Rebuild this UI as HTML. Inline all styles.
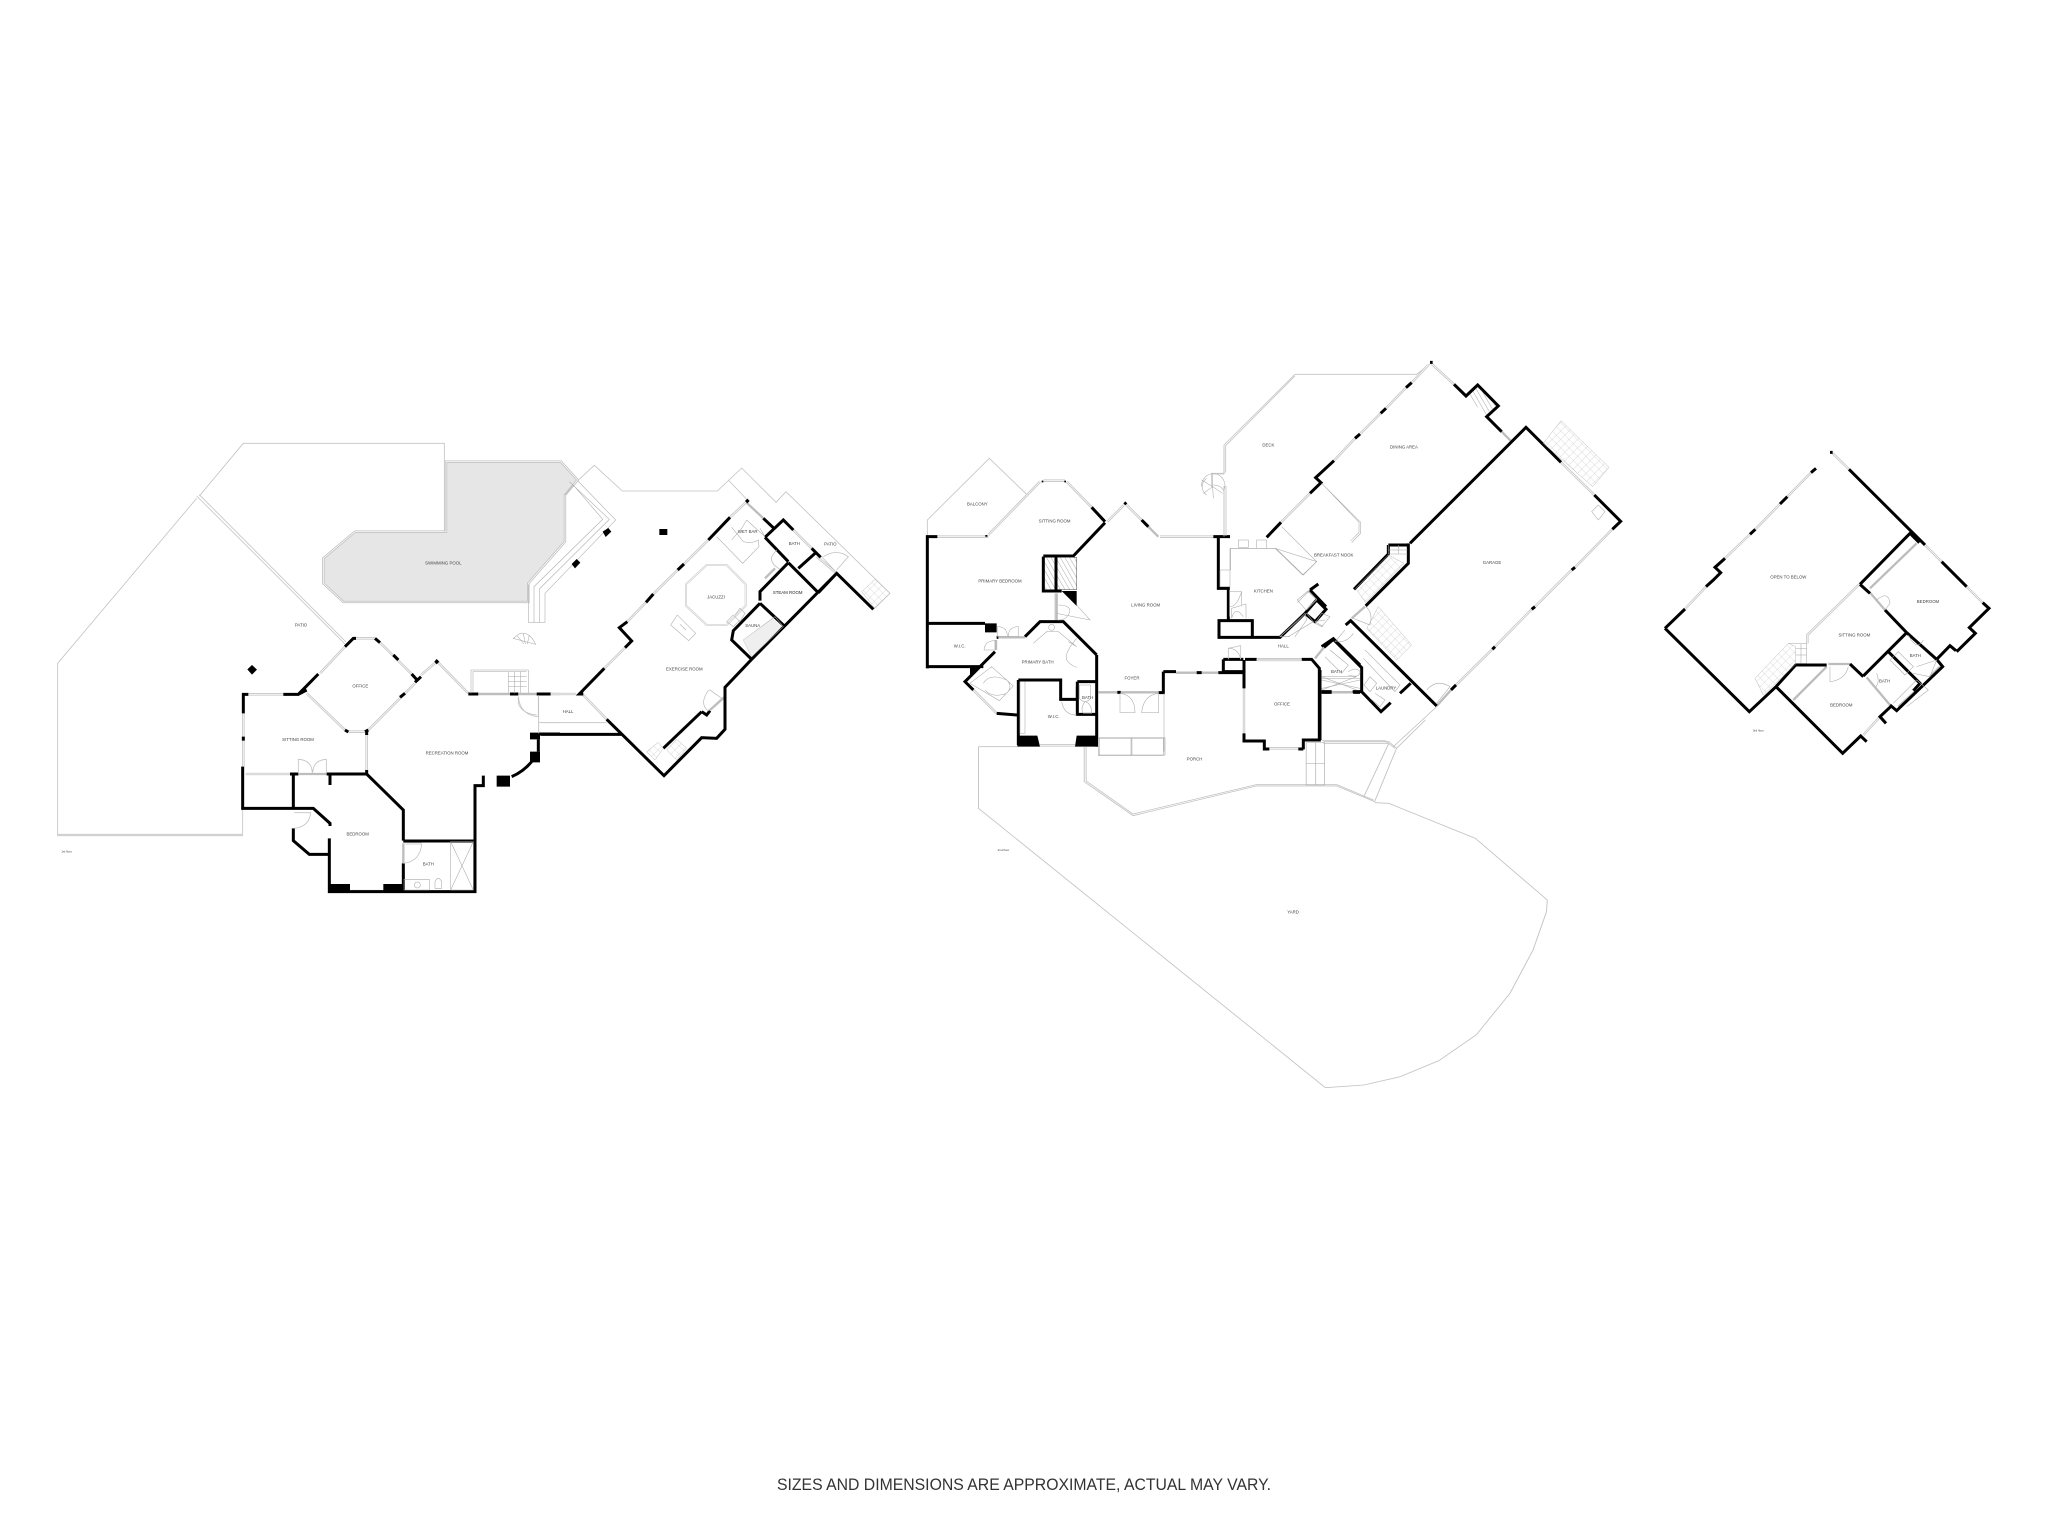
<!DOCTYPE html>
<html><head><meta charset="utf-8"><title>Floor plan</title>
<style>
html,body{margin:0;padding:0;background:#fff}
svg{display:block}
.w{fill:none;stroke:#000;stroke-width:9;stroke-linejoin:miter}
.g{fill:none;stroke:#c2c2c2;stroke-width:2.4}
.n{fill:none;stroke:#a6a6a6;stroke-width:1.6}
.v{fill:none;stroke:#bdbdbd;stroke-width:7}
.i{fill:none;stroke:#f6f6f6;stroke-width:3}
.k{fill:#000;stroke:none}
text{font-family:"Liberation Sans",sans-serif;font-size:13px;fill:#444;text-anchor:middle}
</style></head><body>
<svg width="2048" height="1536" viewBox="0 0 2048 1536" xmlns="http://www.w3.org/2000/svg">
<defs>
<pattern id="st" width="18" height="18" patternUnits="userSpaceOnUse" patternTransform="rotate(45)"><path d="M0 0H18M0 0V18" stroke="#bbb" stroke-width="1.5" fill="none"/></pattern>
<pattern id="ha" width="12" height="12" patternUnits="userSpaceOnUse" patternTransform="rotate(60)"><path d="M0 0H12" stroke="#555" stroke-width="1.5" fill="none"/></pattern>
</defs>
<rect width="2048" height="1536" fill="#fff"/>

<!-- FLOOR 1 left -->
<g transform="translate(40,420) scale(.33333)">
<path d="M1218 125H1563L1613 180L1575 225V365L1465 490V546H910L850 490V415L945 335H1218Z" fill="#e6e6e6" stroke="#bbb" stroke-width="7"/>
<path d="M1218 125H1563L1613 180L1575 225V365L1465 490V546H910L850 490V415L945 335H1218Z" fill="none" stroke="#fff" stroke-width="2.5"/>
<path class="g" d="M478 228L610 70H1213V335M470 235L53 730V1247H608V1165"/>
<path class="g" d="M53 1243H606" />
<path class="g" d="M470 228L915 672M478 224L918 666"/>
<path class="v" d="M840 760L915 680M945 655H1005M1020 668L1115 762M1143 765L1190 725M1195 728L1285 820M625 823H730M610 880V1040M617 1062H750M775 1062H860M980 1050V945M925 935H975M800 820L915 930M985 930L1125 790M1315 822H1410M1435 822H1490M1090 1265H1145M1090 1270V1330M935 1413H1025M1532 822H1560"/>
<path class="i" d="M840 760L915 680M945 655H1005M1020 668L1115 762M1143 765L1190 725M1195 728L1285 820M625 823H730M610 880V1040M617 1062H750M980 1050V945M925 935H975M800 820L915 930M985 930L1125 790M1315 822H1410M935 1413H1025"/>
<path class="w" d="M915 680L940 655H948M1005 655L1020 668M1060 705L1075 720M1115 762L1133 782M1125 787L1143 770M1285 822H1315M1410 822H1435M1490 822H1532M835 762L775 823H730M606 823H625M610 820V880M610 950V962M608 1040V1165H820L870 1210V1218M760 1062V1165M760 1225V1262L808 1303H868M868 1255V1415H1305V1097H1330V1067M750 1062H775M860 1062H980L1090 1170V1262M1090 1330V1415M1090 1263H1305M1415 1070Q1450 1055 1475 1025M1495 958V995M1495 942H1560M775 823L800 810M870 1062V1095M915 930L925 936M975 935L985 930M980 930V945M980 1050V1062M1080 832L1095 820"/>
<path class="k" d="M1370 1067h40v33h-40zM865 1392h65v25h-65zM1030 1392h60v25h-60zM1470 938h30v20h-30zM1470 995h30v32h-30zM622 748L636 735L651 749L636 764ZM1183 725L1190 717L1198 725L1190 733Z"/>
<path class="g" d="M775 1060V1018Q815 1020 817 1058M859 1060V1018Q820 1020 818 1058M1435 830V850Q1445 880 1490 885M1096 1272H1145Q1140 1325 1090 1330M763 1178H812Q808 1220 763 1225"/>
<path class="n" d="M1293 820V750H1465V822M1299 815V755H1460M1405 755V820M1405 770H1460M1405 785H1460M1405 800H1460M1423 755V820M1442 755V820M1232 1265H1300V1410H1232ZM1232 1265L1300 1410M1300 1265L1232 1410M1092 1378H1168V1410H1092ZM1185 1405V1385Q1195 1365 1205 1385V1405ZM1496 825V935M1496 908H1560"/>
<circle class="n" cx="1132" cy="1395" r="9"/>
<path class="n" d="M1420 655L1440 640Q1470 635 1487 673L1420 655ZM1432 648L1452 672M1450 640L1456 672M1468 645L1462 672"/>
<text x="1210" y="433">SWIMMING POOL</text><text x="783" y="620">PATIO</text><text x="961" y="803">OFFICE</text><text x="774" y="963">SITTING ROOM</text><text x="1221" y="1004">RECREATION ROOM</text><text x="953" y="1247">BEDROOM</text><text x="1165" y="1336">BATH</text>
<text x="80" y="1297" style="font-size:9px">1st floor</text>
</g>

<!-- FLOOR 1 right -->
<g transform="translate(450,440) scale(.33333)">
<path class="n" d="M345 165L370 135L458 238L252 440V548M358 125L478 238L268 447V548M383 122L497 240L285 460V548M235 548H285M235 433V548"/>
<path class="g" d="M385 120L433 76L517 153H802L875 84L978 187L1008 155L1320 460L1270 508M835 120L892 180M1160 398L1110 345"/>
<path class="v" d="M840 232L890 185M775 300L702 372M683 390L610 462M588 487L532 545M525 623L463 685M302 762H378M205 762H258M85 762H180M400 765L470 838M890 188L940 235M1030 270L1085 325M1100 350L1160 400M780 810L825 770M945 415L975 385"/>
<path class="i" d="M840 232L890 185M775 300L702 372M683 390L610 462M588 487L532 545M525 623L463 685M302 762H378M400 765L470 838M1030 270L1085 325M1100 350L1160 400"/>
<path class="w" d="M840 232L775 300M702 372L683 390M610 462L588 487M532 545L508 563L545 603L525 623M463 685L388 762H400M470 838L642 1007L755 893L800 895L825 868V742L905 658L1160 400L1270 508M940 235L975 268M945 292L1000 240L1030 270M945 292L1015 365M1085 325L1112 352M1045 385L1095 340M1015 368L1105 458M1105 458L1160 400M1015 368L930 455V482M930 490L850 572L845 600L905 658M930 490L1003 558M755 815L640 925M755 815L770 825L780 812M272 883H515"/>
<path class="k" d="M628 267h24v18h-24zM458 275L475 264L484 275L467 291ZM365 372L380 357L391 368L375 385ZM885 183L892 176L899 183L892 190Z"/>
<path d="M708 433L770 375H830L887 433V497L830 555H770L708 497Z" fill="none" stroke="#ccc" stroke-width="6"/>
<path d="M708 433L770 375H830L887 433V497L830 555H770L708 497Z" fill="none" stroke="#fff" stroke-width="2"/>
<path class="n" d="M662 555L682 525L737 580L716 602ZM690 553L708 570M845 300L875 265L890 240L945 290L930 265M845 262L880 305Q905 312 925 300L927 320L878 370L800 290M870 540L850 560L830 545L850 525L870 545L885 520L870 505L855 525M880 600L975 530L1000 560L905 650Z"/>
<path fill="#efefef" stroke="none" d="M880 600L970 535L995 560L905 650Z"/>
<path fill="url(#st)" stroke="#bbb" stroke-width="1.5" d="M1235 455L1275 418L1320 460L1275 505ZM590 935L625 907L640 925L615 960ZM650 930L680 898L710 925L680 960Z"/>
<path class="g" d="M1120 350Q1160 325 1195 350L1160 390M205 770Q210 825 265 830V770M760 785Q770 750 780 750L815 775L775 812Q762 805 760 785M990 388Q960 370 965 350Q975 335 980 330M272 848H470M266 770V880"/>
<text x="893" y="279">WET BAR</text><text x="1033" y="315">BATH</text><text x="1141" y="316">PATIO</text><text x="798" y="476">JACUZZI</text><text x="1013" y="462" style="fill:#222">STEAM ROOM</text><text x="908" y="561">SAUNA</text><text x="703" y="691">EXERCISE ROOM</text><text x="354" y="819">HALL</text>
</g>

<!-- FLOOR 2 middle -->
<g transform="translate(920,450) scale(.33333)">
<path class="g" d="M22 258V210L208 25L320 133"/>
<path class="v" d="M52 260H195M205 255L360 95M370 92H435M440 95L515 172M562 215L612 165M620 165L665 210M685 230L715 260M720 260H880M410 430V510M22 565V600M235 562H315M195 260H205M600 727H716M535 727H592M768 668H830M845 668H895M1012 628H1145M972 715V850M1048 895H1135M360 886H465M1235 727H1300M228 570V600M160 720L230 790M470 710V745"/>
<path class="i" d="M52 260H195M205 255L360 95M370 92H435M440 95L515 172M562 215L612 165M620 165L665 210M720 260H880M1012 628H1145M972 715V850M1048 895H1135M360 886H465M160 720L230 790"/>
<path class="w" d="M22 655V260H52M22 520H195M22 650H190M225 605L190 640L135 695L160 720M230 790L293 795M295 690V885M295 690H422V748H470M530 615V890M472 695H530M472 695V793H530M315 560L360 515H430L530 615M555 218L460 318H370M515 172L555 215M665 210L685 230M880 260H930M895 262V415H925V510M897 512H997V562H897ZM997 562H1080L1155 490L1185 515L1218 478L1190 450L1155 490M1170 420L1195 402M1170 420L1218 470M1145 628H1175L1198 655V870H1150V898M975 628H1010M972 630V715M972 850V873H1033V897H1048M1135 897H1150M910 628H970M910 628V665H972M730 665H768M730 665V728H716M830 668H845M592 727H602M895 668H970M1205 727H1235M1300 727H1320M1205 590L1240 566L1320 645M230 562H235"/>
<path class="k" d="M195 520h35v27h-35zM150 650h35l-35 30zM292 857h60l8 33h-68zM470 857h60l5 33h-70zM425 423h45v45zM196 260h6v-5h-6zM610 160l6-6 6 6-6 6zM365 92h5v5h-5zM433 92h5v5h-5z"/>
<rect x="367" y="322" width="40" height="100" fill="url(#ha)"/><rect x="410" y="322" width="60" height="97" fill="url(#ha)" stroke="#444" stroke-width="1.5"/>
<path class="w" d="M370 320V423H425M408 320V425"/>
<path class="g" d="M912 0V70H875V110M912 110V258M878 105Q905 105 912 125"/>
<path class="n" d="M845 110A35 35 0 1 1 912 120M860 135A30 30 0 0 1 860 85M878 70V110M878 110L845 90M878 110L850 130M878 110L880 145M878 110L908 130"/>
<path class="n" d="M930 295H1065L1190 335L1148 375L1065 295M930 295V360M955 270H985V292H955ZM1010 270H1040V295H1010ZM900 360H930V410H900ZM928 420V500M930 425H965V470M965 425Q950 470 930 470M935 505V475L978 462V505M935 505Q945 465 970 500M1132 458L1165 425L1190 450L1160 480M1110 560H1080L1155 490L1160 510L1125 560M1215 510L1185 515L1210 530M405 430V510M410 490L510 510L470 465M415 465Q445 465 450 480M415 510Q445 510 450 480M232 530V560H262Q262 530 232 530M295 530V560H265Q265 530 295 530M225 572V600H192Q195 572 225 572M340 580L380 545H415L470 590L445 575M395 532m-9 0a9 9 0 1 0 18 0a9 9 0 1 0-18 0M470 565Q432 610 440 630Q450 645 470 652M150 700L215 650L280 708L238 752ZM190 700Q210 668 260 690Q280 708 260 730Q215 745 195 720M300 695V850H315V695M425 755Q432 795 470 795M478 705H512V745Q495 765 478 745ZM495 755Q480 775 490 790H515Q515 760 495 755M600 730V788H645Q645 735 600 730M716 730V788H665Q670 735 716 730M732 730V905M535 865H730V917H535V790M633 865V917M1205 680H1310M1205 720L1310 680M1205 680L1310 720"/>
<path class="g" d="M925 628V595L962 587V628M925 595Q955 595 962 628"/>
<text x="172" y="166">BALCONY</text><text x="404" y="218">SITTING ROOM</text><text x="240" y="397">PRIMARY BEDROOM</text><text x="677" y="470">LIVING ROOM</text><text x="1030" y="428">KITCHEN</text><text x="119" y="592">W.I.C.</text><text x="353" y="641">PRIMARY BATH</text><text x="636" y="688">FOYER</text><text x="503" y="747">BATH</text><text x="401" y="804">W.I.C.</text><text x="1090" y="593">HALL</text><text x="1086" y="766">OFFICE</text><text x="1250" y="669">BATH</text>
</g>

<g transform="translate(1200,350) scale(.33333)">
<path class="g" d="M285 73H650L690 42M285 73L72 285V372H38M72 408V560M285 78L77 287V368M78 408V558"/>
<path class="v" d="M243 517L330 430M402 332L465 265M480 252L542 190M558 175L618 113M635 98L685 45M695 42L762 103M905 245L932 272M1083 337L1183 435M1237 538L1125 652M1115 660L1005 770M995 778L885 890M877 898L768 1005M753 1020L710 1068M170 930H305M395 1027H458M455 805L495 770M345 925L372 892"/>
<path class="i" d="M243 517L330 430M402 332L465 265M480 252L542 190M558 175L618 113M635 98L685 45M695 42L762 103M1083 337L1183 435M1237 538L1125 652M1115 660L1005 770M995 778L885 890M877 898L768 1005M170 930H305"/>
<path class="w" d="M200 562L243 517M330 430L363 398L347 383L402 332M465 265L480 252M542 190L558 175M618 113L635 98M762 103L798 138L833 105L895 168L860 200L905 245M630 580L978 232L1083 337M1183 435L1262 514L1237 538M1125 652L1115 660M1005 770L995 778M885 890L877 898M768 1005L753 1020M710 1068L452 812L437 825M625 580V640L497 768M565 585V612L462 718M565 585H625M632 1000L600 1030M400 868L485 953V1025M372 892L400 868M485 1025L543 1085L572 1058M365 1025H395M458 1025H485M360 960V1170M690 37h8"/>
<path fill="url(#ha)" d="M800 140L833 108L890 168L860 198Z"/>
<path fill="url(#st)" stroke="#bbb" stroke-width="1.5" d="M1030 280L1083 212L1227 352L1178 410ZM467 715L565 615L612 640L497 758ZM535 770L635 885L590 930L500 835Z"/>
<path class="n" d="M365 400L482 517V550L455 578M370 405L477 517V547L452 573M245 530L350 635L310 675L228 595H92V660M565 585V612H622M595 585V612M565 600H622M498 770Q520 790 510 825L460 805M460 850Q440 880 405 875L435 840M1175 485L1195 465L1215 485L1195 510ZM495 900L600 1005L585 1025L490 925M492 1005L510 980L530 1000L510 1025ZM525 1030L555 1050L540 1070L510 1045M390 900L445 945L425 970L375 920M365 985H480M365 990L480 1015M365 1015L480 990M445 965Q470 950 480 965Q480 985 445 975M680 1020Q710 985 750 1010L710 1060M292 750L325 722L350 748L318 780ZM345 820L365 790L390 800L365 830L345 820ZM240 860L320 790L340 815L265 860ZM365 1172H555L585 1195M580 1190L710 1070"/>
<text x="205" y="290">DECK</text><text x="612" y="296">DINING AREA</text><text x="401" y="620">BREAKFAST NOOK</text><text x="876" y="642">GARAGE</text><text x="558" y="1018">LAUNDRY</text>
</g>

<g transform="translate(960,720) scale(.3846,.33333)">
<path class="g" d="M48 80V265L950 1103L1050 1095L1145 1070L1245 1022L1342 945L1430 820L1490 690L1525 575L1527 540L1340 355L1115 250L1078 248M48 80H150"/>
<path class="g" d="M323 80V185L450 287L770 198H980L1078 245M1135 85L1078 245M1115 70L1050 230M945 65H1115L1135 85L1210 0M328 80V183L450 282L770 194H980L1075 240M945 70H1115"/>
<path class="n" d="M900 68H948V195H900ZM925 68V195M900 130H948M362 53H533V105H362ZM447 53V105"/>
<text x="610" y="121" transform="translate(610 0) scale(.867 1) translate(-610 0)">PORCH</text><text x="866" y="581" transform="translate(866 0) scale(.867 1) translate(-866 0)">YARD</text>
<text x="113" y="393" style="font-size:9px" transform="translate(113 0) scale(.867 1) translate(-113 0)">2nd floor</text>
</g>

<!-- FLOOR 3 -->
<g transform="translate(1650,440) scale(.33333)">
<path class="v" d="M225 355L300 283M316 268L390 192M412 170L483 98M105 507L168 440M548 40L597 88M825 315L875 365M950 440L998 488M920 635L970 585M640 885L690 830M628 433L472 585V610M660 445L800 310M430 780L530 680M660 458L705 510M535 672H600M775 580L860 660M650 712L720 795M745 800L800 750M840 710L870 680"/>
<path class="i" d="M225 355L300 283M316 268L390 192M412 170L483 98M105 507L168 440M548 40L597 88M825 315L875 365M950 440L998 488M920 635L970 585M640 885L690 830M628 433L472 585V610"/>
<path class="w" d="M597 88L825 315M875 365L950 440M998 488L1017 505L958 563L976 580L920 635M918 632L900 617L860 658L878 680L740 812L720 795M725 797L690 830L708 850M650 905L632 888L578 940L378 740L437 675H530M600 672L640 710M45 565L105 507M168 440L190 420L212 398L195 382L225 355M300 283L316 268M390 192L412 170M483 98L498 85M45 565L298 815L378 740M640 708L770 578M630 433L780 280L808 308M630 433L660 460M705 510L770 578L860 658M715 635L810 730L790 752M540 37h8"/>
<path fill="url(#st)" stroke="#bbb" stroke-width="1.5" d="M315 715L415 610L437 620V672L340 765Z"/>
<path class="n" d="M415 610H470V670H437M437 625H470M437 645H470M453 612V670M680 480Q715 450 720 490L705 510M540 680V725Q585 720 595 680M775 585Q800 635 820 600M680 700Q690 725 678 740M745 635L790 680L765 705L720 660ZM800 680L860 660L840 710L790 700M730 790L800 720L835 750L770 800"/>
<text x="415" y="416">OPEN TO BELOW</text><text x="834" y="489">BEDROOM</text><text x="613" y="589">SITTING ROOM</text><text x="796" y="651">BATH</text><text x="704" y="727">BATH</text><text x="574" y="799">BEDROOM</text>
<text x="325" y="875" style="font-size:9px">3rd floor</text>
</g>

<text x="1024" y="1490" textLength="494" lengthAdjust="spacingAndGlyphs" style="font-size:17px;fill:#333">SIZES AND DIMENSIONS ARE APPROXIMATE, ACTUAL MAY VARY.</text>
</svg>
</body></html>
